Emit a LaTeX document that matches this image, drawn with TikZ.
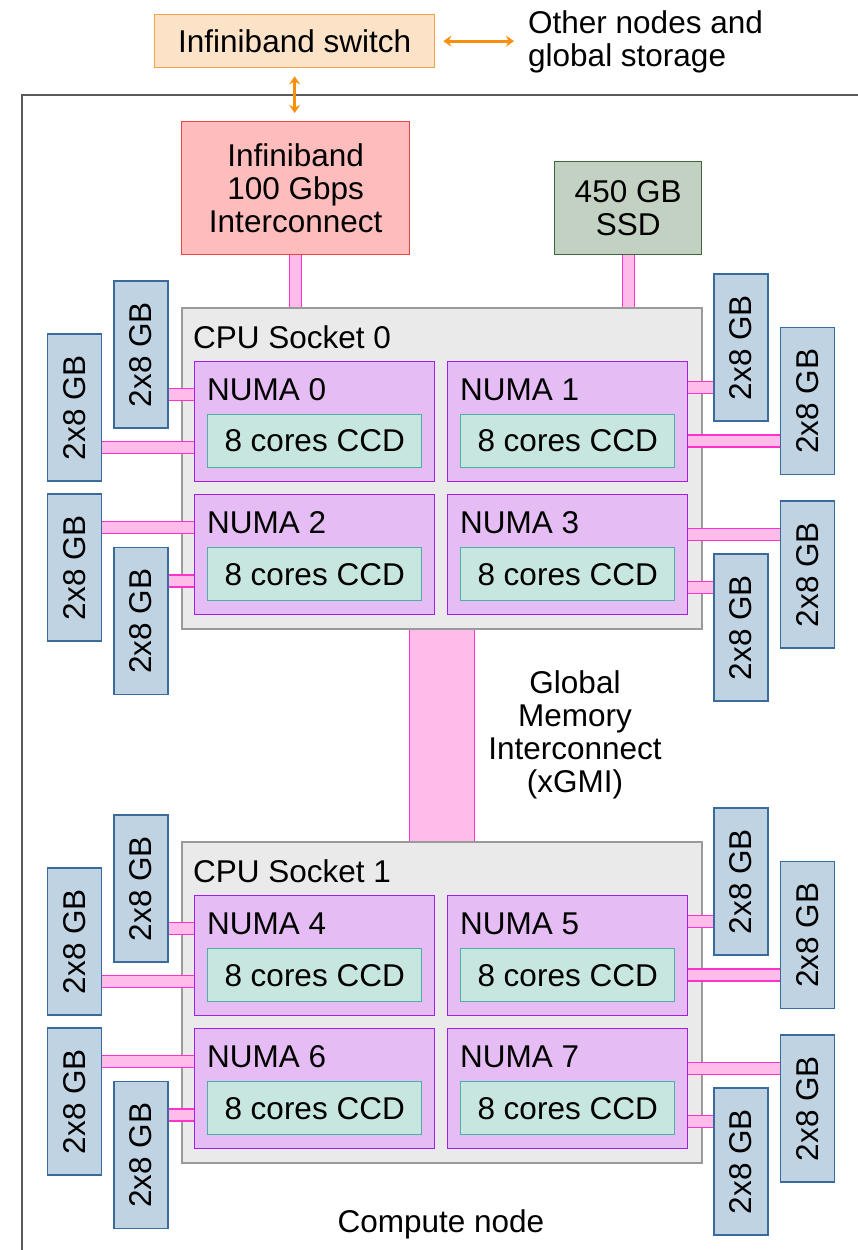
\documentclass[tikz,border=0pt]{standalone}
\usepackage{fontspec}
\setmainfont{Liberation Sans}
\usetikzlibrary{positioning,calc,arrows,arrows.meta}

\definecolor{swfill}{HTML}{FCE3C8}
\definecolor{swline}{HTML}{F5A24A}
\definecolor{ibfill}{HTML}{FFBCBC}
\definecolor{ibline}{HTML}{E84545}
\definecolor{ssdfill}{HTML}{C2D1C2}
\definecolor{ssdline}{HTML}{3A663A}
\definecolor{sockfill}{HTML}{EAEAEA}
\definecolor{sockline}{HTML}{9A9A9A}
\definecolor{numafill}{HTML}{E6BCF4}
\definecolor{numaline}{HTML}{A020E8}
\definecolor{ccdfill}{HTML}{C8E6E0}
\definecolor{ccdline}{HTML}{4DB0A6}
\definecolor{memfill}{HTML}{C0D3E3}
\definecolor{memline}{HTML}{3A6B9C}
\definecolor{busfill}{HTML}{FFBBE9}
\definecolor{busline}{HTML}{FF33CC}
\definecolor{arrowor}{HTML}{F7900F}
\definecolor{frameline}{HTML}{595959}

\tikzset{
  box/.style={draw,line width=1.3pt,inner sep=0pt,anchor=north west,align=center},
  sz/.style 2 args={minimum width=#1,minimum height=#2},
  lbl/.style={anchor=base west,inner sep=0pt},
  socket/.style={box,fill=sockfill,draw=sockline,line width=1.8pt,sz={520}{321}},
  numa/.style={box,fill=numafill,draw=numaline,sz={240}{120}},
  ccd/.style={box,fill=ccdfill,draw=ccdline,sz={214}{53}},
  mem/.style={draw=memline,fill=memfill,line width=1.3pt,inner sep=0pt,rotate=90,sz={147}{54}},
  bus/.style={draw=busline,line width=1.2pt,double=busfill,double distance=10.8pt},
  link/.style={draw=arrowor,line width=3pt,{Stealth[length=8pt,width=11pt]}-{Stealth[length=8pt,width=11pt]}},
}

\begin{document}
\begin{tikzpicture}[x=1pt,y=-1pt,font=\fontsize{31.5}{33}\selectfont]
  \useasboundingbox (0,0) rectangle (858,1250);
  \clip (0,0) rectangle (858,1250);

  % compute node frame (runs off the page)
  \node[draw=frameline,line width=2pt,anchor=north west,inner sep=0pt,sz={1000}{1300}] (cnode) at (21,94) {};
  \node (cnode-lbl) at (441,1224) {Compute node};

  % outside world
  \node[box,fill=swfill,draw=swline,sz={280}{53}] (switch) at (154,14) {Infiniband switch};
  \node[anchor=west,align=left,inner sep=0pt] (others) at (528,41.5) {Other nodes and\\global storage};
  \node[box,fill=ibfill,draw=ibline,sz={228}{133}] (ib) at (181,121) {Infiniband\\100 Gbps\\Interconnect};
  \node[box,fill=ssdfill,draw=ssdline,sz={147}{93}] (ssd) at (554,161) {450 GB\\SSD};
  \draw[link,shorten <=8pt,shorten >=14pt] (switch.east) -- (switch.east -| others.west);
  \draw[link,shorten <=8pt,shorten >=8pt] (switch.south) -- (switch.south |- ib.north);

  \foreach \s/\dy in {0/0,1/534} {
    \node[socket] (sock\s) at (181,307+\dy) {};
    \node[lbl] (sock\s-lbl) at (193,348+\dy) {CPU Socket \s};
    \foreach \k/\nx/\ny in {0/194/361,1/447/361,2/194/494,3/447/494} {
      \pgfmathtruncatemacro\n{4*\s+\k}
      \node[numa] (numa\n) at (\nx,\ny+\dy) {};
      \node[lbl] (numa\n-lbl) at (\nx+13,\ny+39+\dy) {NUMA \n};
      \node[ccd] (ccd\n) at (\nx+13,\ny+53+\dy) {8 cores CCD};
    }
    % memory modules: centre, NUMA, side, bus offset
    \foreach \mx/\my/\k/\att/\side/\off [count=\i] in {
        141/354.5/0/south/west/40, 74.5/407.5/0/south/west/40,
        74.5/567.5/2/south/west/-40, 141/621/2/south/west/-40,
        741/347.5/1/north/east/40, 807.5/401/1/north/east/40,
        807.5/574.5/3/north/east/-40, 741/627.5/3/north/east/-40} {
      \pgfmathtruncatemacro\n{4*\s+\k}
      \node[mem] (mem\s\i) at (\mx,\my+\dy) {2x8 GB};
      \path (mem\s\i.center) ++(0,\off) coordinate (bus\s\i);
      \draw[bus] (bus\s\i -| mem\s\i.\att) -- (bus\s\i -| numa\n.\side);
    }
  }

  \draw[bus] (ib.south) -- (ib.south |- sock0.north);
  \draw[bus] (ssd.south) -- (ssd.south |- sock0.north);
  \draw[bus,double distance=63.5pt] (sock0.south) -- (sock1.north);
  \node[align=center] (xgmi-lbl) at (575,734.5) {Global\\Memory\\Interconnect\\(xGMI)};
\end{tikzpicture}
\end{document}
